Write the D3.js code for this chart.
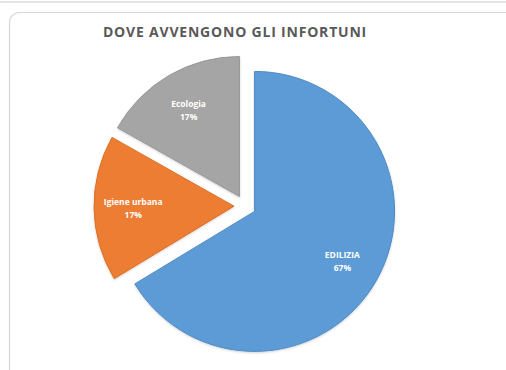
<!DOCTYPE html>
<html>
<head>
<meta charset="utf-8">
<script src="https://cdn.jsdelivr.net/npm/d3@7"></script>
<style>
  html, body { margin: 0; padding: 0; background: #fff; }
  svg { display: block; }
</style>
</head>
<body>
<svg id="chart" width="506" height="370"></svg>
<script>
// Share of accidents by sector (percent)
const categories = ["EDILIZIA", "Igiene urbana", "Ecologia"];
const shares = [67, 17, 17];
const colors = ["#5B9BD5", "#ED7D31", "#A5A5A5"];
const edgeColors = ["#4F8CC4", "#D96F27", "#979797"];
const title = "DOVE AVVENGONO GLI INFORTUNI";

const W = 506, H = 370;
const svg = d3.select("#chart");

// outer frame line and card with rounded corner
svg.append("line")
  .attr("x1", 0).attr("x2", W).attr("y1", 2).attr("y2", 2)
  .attr("stroke", "#dcdcdc").attr("stroke-width", 1.5);
svg.append("rect")
  .attr("x", 9.5).attr("y", 12.5).attr("width", W + 20).attr("height", H + 20)
  .attr("rx", 10).attr("ry", 10)
  .attr("fill", "#fff").attr("stroke", "#d6d6d6").attr("stroke-width", 1.2);

svg.append("text")
  .attr("x", 235).attr("y", 37)
  .attr("text-anchor", "middle")
  .attr("font-family", "'Open Sans', sans-serif")
  .attr("font-weight", 700)
  .attr("font-size", 14)
  .attr("letter-spacing", 0.8)
  .attr("fill", "#595959")
  .text(title);

const cx = 245, cy = 206, R = 140, explode = 11;
const data = categories.map((c, i) => ({ name: c, value: shares[i], i }));
const pie = d3.pie().value(d => d.value).sort(null);
const arcs = pie(data);
const arc = d3.arc().innerRadius(0).outerRadius(R);
const labelArc = d3.arc().innerRadius(R * 0.72).outerRadius(R * 0.72);

const defs = svg.append("defs");
const f = defs.append("filter").attr("id", "shadow")
  .attr("x", "-10%").attr("y", "-10%").attr("width", "120%").attr("height", "120%");
f.append("feDropShadow").attr("dx", 0).attr("dy", 1).attr("stdDeviation", 1)
  .attr("flood-color", "#000").attr("flood-opacity", 0.18);

const g = svg.append("g").attr("transform", `translate(${cx},${cy})`);

const slices = g.selectAll("g.slice").data(arcs).enter().append("g")
  .attr("class", "slice")
  .attr("transform", d => {
    const a = (d.startAngle + d.endAngle) / 2;
    return `translate(${Math.sin(a) * explode},${-Math.cos(a) * explode})`;
  });

slices.append("path")
  .attr("d", arc)
  .attr("fill", d => colors[d.data.i])
  .attr("stroke", d => edgeColors[d.data.i])
  .attr("stroke-width", 1)
  .attr("filter", "url(#shadow)");

const lbl = slices.append("text")
  .attr("transform", d => `translate(${labelArc.centroid(d)})`)
  .attr("text-anchor", "middle")
  .attr("font-family", "'Open Sans', sans-serif")
  .attr("font-weight", 700)
  .attr("font-size", 8.5)
  .attr("fill", "#fff");
lbl.append("tspan").attr("x", 0).attr("dy", "-0.3em").text(d => d.data.name);
lbl.append("tspan").attr("x", 0).attr("dy", "1.5em").text(d => d.data.value + "%");
</script>
</body>
</html>
